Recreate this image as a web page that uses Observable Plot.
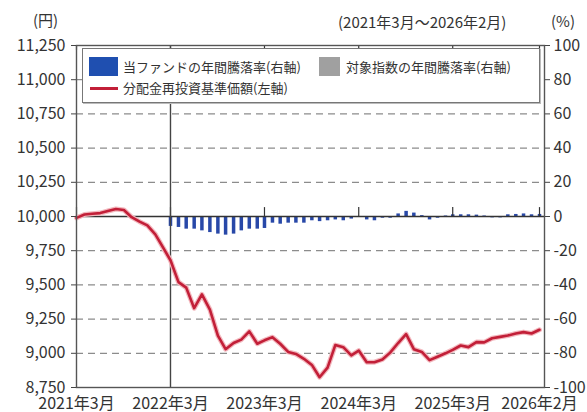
<!DOCTYPE html>
<html><head><meta charset="utf-8">
<script src="https://cdn.jsdelivr.net/npm/d3@7"></script>
<script src="https://cdn.jsdelivr.net/npm/@observablehq/plot@0.6"></script>
<style>
body{margin:0;background:#fff;font-family:"Noto Sans CJK JP","Noto Sans",sans-serif;color:#333}
#wrap{position:relative;width:587px;height:412px;overflow:hidden}
.lbl{position:absolute;white-space:nowrap;line-height:1;color:#333}
#legend{position:absolute;left:82px;top:48px;width:458px;height:55px;background:#fff;border:1.5px solid #777;box-sizing:border-box;font-size:13px;box-shadow:1px 1px 0 #bbb}
#legend .sw{position:absolute}
#legend .tx{position:absolute;white-space:nowrap;line-height:1;color:#333}
</style></head>
<body><div id="wrap"></div>
<script>
const months = ["2021-03","2021-04","2021-05","2021-06","2021-07","2021-08","2021-09","2021-10","2021-11","2021-12",
"2022-01","2022-02","2022-03","2022-04","2022-05","2022-06","2022-07","2022-08","2022-09","2022-10","2022-11","2022-12",
"2023-01","2023-02","2023-03","2023-04","2023-05","2023-06","2023-07","2023-08","2023-09","2023-10","2023-11","2023-12",
"2024-01","2024-02","2024-03","2024-04","2024-05","2024-06","2024-07","2024-08","2024-09","2024-10","2024-11","2024-12",
"2025-01","2025-02","2025-03","2025-04","2025-05","2025-06","2025-07","2025-08","2025-09","2025-10","2025-11","2025-12",
"2026-01","2026-02"];
const navValues = [9990,10015,10020,10025,10040,10055,10048,9995,9962,9935,
9870,9770,9680,9520,9480,9330,9430,9320,9130,9030,9075,9100,
9160,9070,9095,9118,9070,9010,8995,8960,8915,8825,8895,9060,
9045,8985,9020,8935,8935,8955,9005,9075,9140,9030,9010,8950,
8975,9000,9025,9057,9045,9082,9080,9110,9120,9130,9145,9155,
9145,9172];
const fundReturnStart = 12; // first bar: 2022-03
const fundReturn = [-5.8,-6.4,-7.4,-7.4,-8.4,-9.4,-10.3,-10.9,-10.3,-8.4,-7.4,-7.4,
-7.0,-3.9,-4.5,-3.9,-3.9,-3.9,-2.5,-3.0,-2.5,-2.0,-2.5,-1.5,
-0.5,-2.0,-2.5,-1.0,-1.0,1.5,3.0,2.0,0.5,-2.0,-1.0,0.3,
1.0,1.0,1.0,0.8,0.3,-0.8,-0.8,1.0,1.2,1.5,1.0,1.2];
const leftTicks = [8750,9000,9250,9500,9750,10000,10250,10500,10750,11000,11250];
const gridLevels = [9000,9250,9500,9750,10250,10500,10750,11000];
const rightTicks = [-100,-80,-60,-40,-20,0,20,40,60,80,100];
const xTickMonths = ["2021-03","2022-03","2023-03","2024-03","2025-03","2026-02"];
const legendLabels = ["当ファンドの年間騰落率(右軸)","対象指数の年間騰落率(右軸)","分配金再投資基準価額(左軸)"];

const parse = d3.utcParse("%Y-%m");
const nav = months.map((m,i)=>({date:parse(m), value:navValues[i]}));
const bars = fundReturn.map((p,i)=>({date:parse(months[fundReturnStart+i]), pct:p}));
const toLeft = p => 10000 + p*12.5;
const fmtX = d => `${d.getUTCFullYear()}年${d.getUTCMonth()+1}月`;
const font = '"Noto Sans CJK JP","Noto Sans",sans-serif';

const chart = Plot.plot({
  width:587, height:412, marginLeft:76, marginRight:43, marginTop:45, marginBottom:25,
  x:{type:"utc", domain:[parse(months[0]), parse(months[months.length-1])], insetRight:5, label:null},
  y:{domain:[8750,11250], label:null},
  style:{fontSize:"16px", fontFamily:font, color:"#333", background:"#fff", overflow:"visible"},
  marks:[
    Plot.ruleY(gridLevels, {stroke:"#8c8c8c", strokeDasharray:"7,5", strokeWidth:1.3}),
    Plot.ruleX(bars, {x:"date", y1:10000, y2:d=>toLeft(d.pct), stroke:"#2848a8", strokeWidth:3.5}),
    Plot.ruleY([10000], {stroke:"#333", strokeWidth:1.3}),
    Plot.ruleX(xTickMonths, {x:d=>parse(d), y1:10000, y2:10065, stroke:"#333", strokeWidth:1.2}),
    Plot.ruleX(xTickMonths, {x:d=>parse(d), y1:11250, y2:11215, stroke:"#333", strokeWidth:1.2}),
    Plot.ruleX([parse("2022-03")], {stroke:"#444", strokeWidth:1.4}),
    Plot.line(nav, {x:"date", y:"value", stroke:"#f3b8be", strokeWidth:5, strokeLinejoin:"round"}),
    Plot.line(nav, {x:"date", y:"value", stroke:"#c21f38", strokeWidth:2.6, strokeLinejoin:"round"}),
    Plot.frame({stroke:"#555", strokeWidth:1.4}),
    Plot.axisY(leftTicks, {anchor:"left", label:null, tickSize:5, tickPadding:6, tickFormat:d3.format(","), stroke:"#444"}),
    Plot.axisY(rightTicks.map(toLeft), {anchor:"right", label:null, tickSize:5, tickPadding:4, stroke:"#444",
      tickFormat:v=>String(Math.round((v-10000)/12.5))}),
    Plot.axisX(xTickMonths.map(parse), {anchor:"bottom", label:null, tickSize:0, tickPadding:10, tickFormat:fmtX})
  ]
});

const wrap = document.getElementById("wrap");
wrap.appendChild(chart);

function addLabel(text, left, top, size){
  const d=document.createElement("div"); d.className="lbl"; d.textContent=text;
  d.style.left=left+"px"; d.style.top=top+"px"; d.style.fontSize=size+"px"; wrap.appendChild(d); return d;
}
addLabel("(円)", 33, 12, 15);
addLabel("(%)", 551, 13, 15);
addLabel("(2021年3月～2026年2月)", 338, 14, 15);

const lg=document.createElement("div"); lg.id="legend"; wrap.appendChild(lg);
function sw(left,top,w,h,color){const s=document.createElement("div");s.className="sw";
  Object.assign(s.style,{left:left+"px",top:top+"px",width:w+"px",height:h+"px",background:color});lg.appendChild(s);}
function tx(text,left,top){const t=document.createElement("div");t.className="tx";t.textContent=text;
  t.style.left=left+"px";t.style.top=top+"px";lg.appendChild(t);}
sw(6,8,29,19,"#1f4fb0"); tx(legendLabels[0],40,11);
sw(236,8,21,19,"#a0a0a0"); tx(legendLabels[1],263,11);
sw(7,38,28,3,"#c21f38"); tx(legendLabels[2],40,32);
</script></body></html>
